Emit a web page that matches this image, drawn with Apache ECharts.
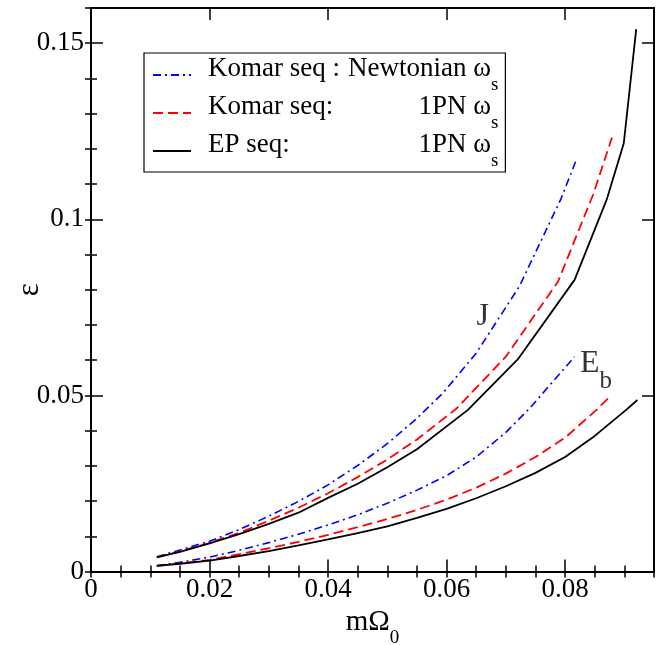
<!DOCTYPE html>
<html>
<head>
<meta charset="utf-8">
<script src="https://cdn.jsdelivr.net/npm/echarts@6/dist/echarts.min.js"></script>
<style>
  html, body { margin: 0; padding: 0; background: #fff; }
  #chart { width: 667px; height: 645px; }
</style>
</head>
<body>
<div id="chart"></div>
<script>
// Tick labels
const xTickLabels = ['0', '0.02', '0.04', '0.06', '0.08'];
const yTickLabels = ['0', '0.05', '0.1', '0.15'];

// Komar sequence, Newtonian omega_s
const omegaKomarNewtJ = [0.0111, 0.015, 0.02, 0.025, 0.03, 0.035, 0.04, 0.045, 0.05, 0.055, 0.0594, 0.065, 0.0723, 0.0793, 0.0818];
const epsKomarNewtJ   = [0.0042, 0.0061, 0.0086, 0.0119, 0.0157, 0.0199, 0.0246, 0.0301, 0.0363, 0.0435, 0.0507, 0.062, 0.081, 0.1058, 0.1165];
const omegaKomarNewtE = [0.0111, 0.015, 0.02, 0.025, 0.03, 0.035, 0.04, 0.045, 0.05, 0.055, 0.06, 0.065, 0.07, 0.074, 0.0816];
const epsKomarNewtE   = [0.0017, 0.0026, 0.0041, 0.006, 0.0082, 0.0106, 0.0132, 0.0161, 0.0194, 0.0231, 0.0272, 0.0325, 0.0395, 0.0463, 0.061];

// Komar sequence, 1PN omega_s
const omegaKomar1pnJ = [0.0111, 0.015, 0.02, 0.025, 0.03, 0.035, 0.04, 0.045, 0.05, 0.055, 0.0617, 0.07, 0.0788, 0.0847, 0.0879];
const epsKomar1pnJ   = [0.0041, 0.0057, 0.0081, 0.011, 0.0144, 0.0181, 0.0222, 0.0268, 0.0318, 0.0375, 0.0463, 0.061, 0.0823, 0.1069, 0.1232];
const omegaKomar1pnE = [0.0111, 0.015, 0.02, 0.025, 0.03, 0.035, 0.04, 0.045, 0.05, 0.055, 0.06, 0.065, 0.07, 0.075, 0.08, 0.0853, 0.0878];
const epsKomar1pnE   = [0.0016, 0.0023, 0.0033, 0.0049, 0.0066, 0.0084, 0.0104, 0.0126, 0.0149, 0.0175, 0.0204, 0.0238, 0.0278, 0.0325, 0.038, 0.0459, 0.0501];

// EP sequence, 1PN omega_s
const omegaEp1pnJ = [0.0111, 0.015, 0.02, 0.025, 0.03, 0.035, 0.04, 0.045, 0.05, 0.055, 0.0636, 0.072, 0.0816, 0.087, 0.0899, 0.092];
const epsEp1pnJ   = [0.004, 0.0056, 0.008, 0.0106, 0.0135, 0.0167, 0.0209, 0.0249, 0.0296, 0.0347, 0.0459, 0.0602, 0.0828, 0.1055, 0.1216, 0.154];
const omegaEp1pnE = [0.0111, 0.015, 0.02, 0.025, 0.03, 0.035, 0.04, 0.045, 0.05, 0.055, 0.06, 0.065, 0.07, 0.075, 0.08, 0.085, 0.0903, 0.0922];
const epsEp1pnE   = [0.0016, 0.0022, 0.0031, 0.0044, 0.0058, 0.0074, 0.0091, 0.0109, 0.0128, 0.0152, 0.0178, 0.0208, 0.0242, 0.028, 0.0325, 0.0385, 0.0459, 0.0487];

// Curve-group labels
const groupLabels = [
  { text: '{m|J}', x: 0.0661, y: 0.0723 },
  { text: '{m|E}{s|b}', x: 0.0852, y: 0.0570 }
];

const legendNames = ['Komar seq : Newtonian', 'Komar seq:', 'EP seq:'];
const legendLeft = ['Komar seq : ', 'Komar seq:', 'EP seq:'];
const legendRight = ['Newtonian ω', '1PN ω', '1PN ω'];

const FONT = 'Liberation Serif';
const zip = (xs, ys) => xs.map((x, i) => [x, ys[i]]);

// text width helper, used to right-align the second column of the legend
const measureCtx = document.createElement('canvas').getContext('2d');
function textWidth(str, size) {
  measureCtx.font = size + 'px "' + FONT + '"';
  return measureCtx.measureText(str).width;
}
const rightColWidth = Math.max(...legendRight.map(s => textWidth(s, 27)));

const blueStyle = { color: '#0000ff', width: 1.6, type: [8, 4, 2, 4] };
const redStyle = { color: '#ff0000', width: 1.8, type: [10, 5] };
const blackStyle = { color: '#000000', width: 1.8, type: 'solid' };

function curve(name, xs, ys, ls) {
  return {
    name: name, type: 'line', xAxisIndex: 0, yAxisIndex: 0,
    data: zip(xs, ys), symbol: 'none', showSymbol: false,
    lineStyle: ls, itemStyle: { color: ls.color },
    silent: true, animation: false, z: 3
  };
}

const xMajor = (pos, labels) => ({
  type: 'value', position: pos, min: 0, max: 0.095, interval: 0.02,
  axisLine: { show: true, onZero: false, lineStyle: { color: '#000', width: 2 } },
  axisTick: { show: true, inside: true, length: 12, lineStyle: { color: '#000', width: 1.5 } },
  axisLabel: labels ? {
    show: true, margin: 5, fontFamily: FONT, fontSize: 27, color: '#000',
    showMaxLabel: false,
    formatter: v => xTickLabels[Math.round(v / 0.02)] || ''
  } : { show: false },
  splitLine: { show: false }
});
const xMinor = pos => ({
  type: 'value', position: pos, min: 0, max: 0.095, interval: 0.005,
  axisLine: { show: false }, axisLabel: { show: false }, splitLine: { show: false },
  axisTick: { show: true, inside: true, length: 6, lineStyle: { color: '#000', width: 1.5 } }
});
const yMajor = (pos, labels) => ({
  type: 'value', position: pos, min: 0, max: 0.16, interval: 0.05,
  axisLine: { show: true, onZero: false, lineStyle: { color: '#000', width: 2 } },
  axisTick: { show: true, inside: true, length: 12, lineStyle: { color: '#000', width: 1.5 } },
  axisLabel: labels ? {
    show: true, margin: 7, fontFamily: FONT, fontSize: 27, color: '#000',
    showMaxLabel: false,
    formatter: v => yTickLabels[Math.round(v / 0.05)] || ''
  } : { show: false },
  splitLine: { show: false }
});
const yMinor = pos => ({
  type: 'value', position: pos, min: 0, max: 0.16, interval: 0.01,
  axisLine: { show: false }, axisLabel: { show: false }, splitLine: { show: false },
  axisTick: { show: true, inside: true, length: 6, lineStyle: { color: '#000', width: 1.5 } }
});

// main glyphs sit at the top of the line box, subscripts at its bottom
const xBottom = xMajor('bottom', true);
xBottom.name = '{m|mΩ}{s|0}';
xBottom.nameLocation = 'middle';
xBottom.nameGap = 36;
xBottom.nameMoveOverlap = false;
xBottom.nameTextStyle = {
  fontFamily: FONT, color: '#000',
  rich: {
    m: { fontFamily: FONT, fontSize: 29, lineHeight: 30, verticalAlign: 'top', color: '#000' },
    s: { fontFamily: FONT, fontSize: 19, lineHeight: 40, verticalAlign: 'bottom', color: '#000' }
  }
};

const yLeft = yMajor('left', true);
yLeft.name = 'ε';
yLeft.nameLocation = 'middle';
yLeft.nameGap = 46;
yLeft.nameMoveOverlap = false;
yLeft.nameTextStyle = { fontFamily: FONT, fontSize: 31, color: '#000' };

const legendRich = {
  a: { fontFamily: FONT, fontSize: 27, lineHeight: 30, width: 140, padding: [0, 0, 0, 12], verticalAlign: 'top', color: '#000' },
  b: { fontFamily: FONT, fontSize: 27, lineHeight: 30, verticalAlign: 'top', color: '#000' },
  s: { fontFamily: FONT, fontSize: 19, lineHeight: 40, verticalAlign: 'bottom', color: '#000' }
};
legendRight.forEach((s, i) => {
  legendRich['b' + i] = Object.assign({}, legendRich.b, {
    padding: [0, 0, 0, rightColWidth - textWidth(s, 27)]
  });
});

const option = {
  animation: false,
  backgroundColor: '#fff',
  grid: { left: 91, right: 13, top: 8, bottom: 73.5, containLabel: false, outerBoundsMode: 'none' },
  xAxis: [xBottom, xMinor('bottom'), xMajor('top', false), xMinor('top')],
  yAxis: [yLeft, yMinor('left'), yMajor('right', false), yMinor('right')],
  legend: {
    orient: 'vertical', left: 144, top: 53,
    data: legendNames,
    itemWidth: 38, itemHeight: 14, itemGap: -2,
    padding: [2, 7, 1, 8],
    borderColor: '#000', borderWidth: 1.2, backgroundColor: '#fff',
    selectedMode: false,
    itemStyle: { opacity: 0 },
    textStyle: { fontFamily: FONT, fontSize: 27, color: '#000', rich: legendRich },
    formatter: name => {
      const i = legendNames.indexOf(name);
      return '{a|' + legendLeft[i] + '}{b' + i + '|' + legendRight[i] + '}{s|s}';
    }
  },
  series: [
    curve(legendNames[0], omegaKomarNewtJ, epsKomarNewtJ, blueStyle),
    curve(legendNames[0], omegaKomarNewtE, epsKomarNewtE, blueStyle),
    curve(legendNames[1], omegaKomar1pnJ, epsKomar1pnJ, redStyle),
    curve(legendNames[1], omegaKomar1pnE, epsKomar1pnE, redStyle),
    curve(legendNames[2], omegaEp1pnJ, epsEp1pnJ, blackStyle),
    curve(legendNames[2], omegaEp1pnE, epsEp1pnE, blackStyle),
    {
      name: 'labels', type: 'scatter', xAxisIndex: 0, yAxisIndex: 0,
      symbolSize: 0, silent: true, z: 4,
      data: groupLabels.map(g => ({ value: [g.x, g.y], label: { formatter: g.text } })),
      label: {
        show: true, position: 'inside', color: '#000',
        rich: {
          m: { fontFamily: FONT, fontSize: 32, lineHeight: 32, verticalAlign: 'top', color: '#000' },
          s: { fontFamily: FONT, fontSize: 25, lineHeight: 46, verticalAlign: 'bottom', color: '#000' }
        }
      }
    }
  ]
};

const chart = echarts.init(document.getElementById('chart'), null, { renderer: 'canvas' });
chart.setOption(option);
</script>
</body>
</html>
